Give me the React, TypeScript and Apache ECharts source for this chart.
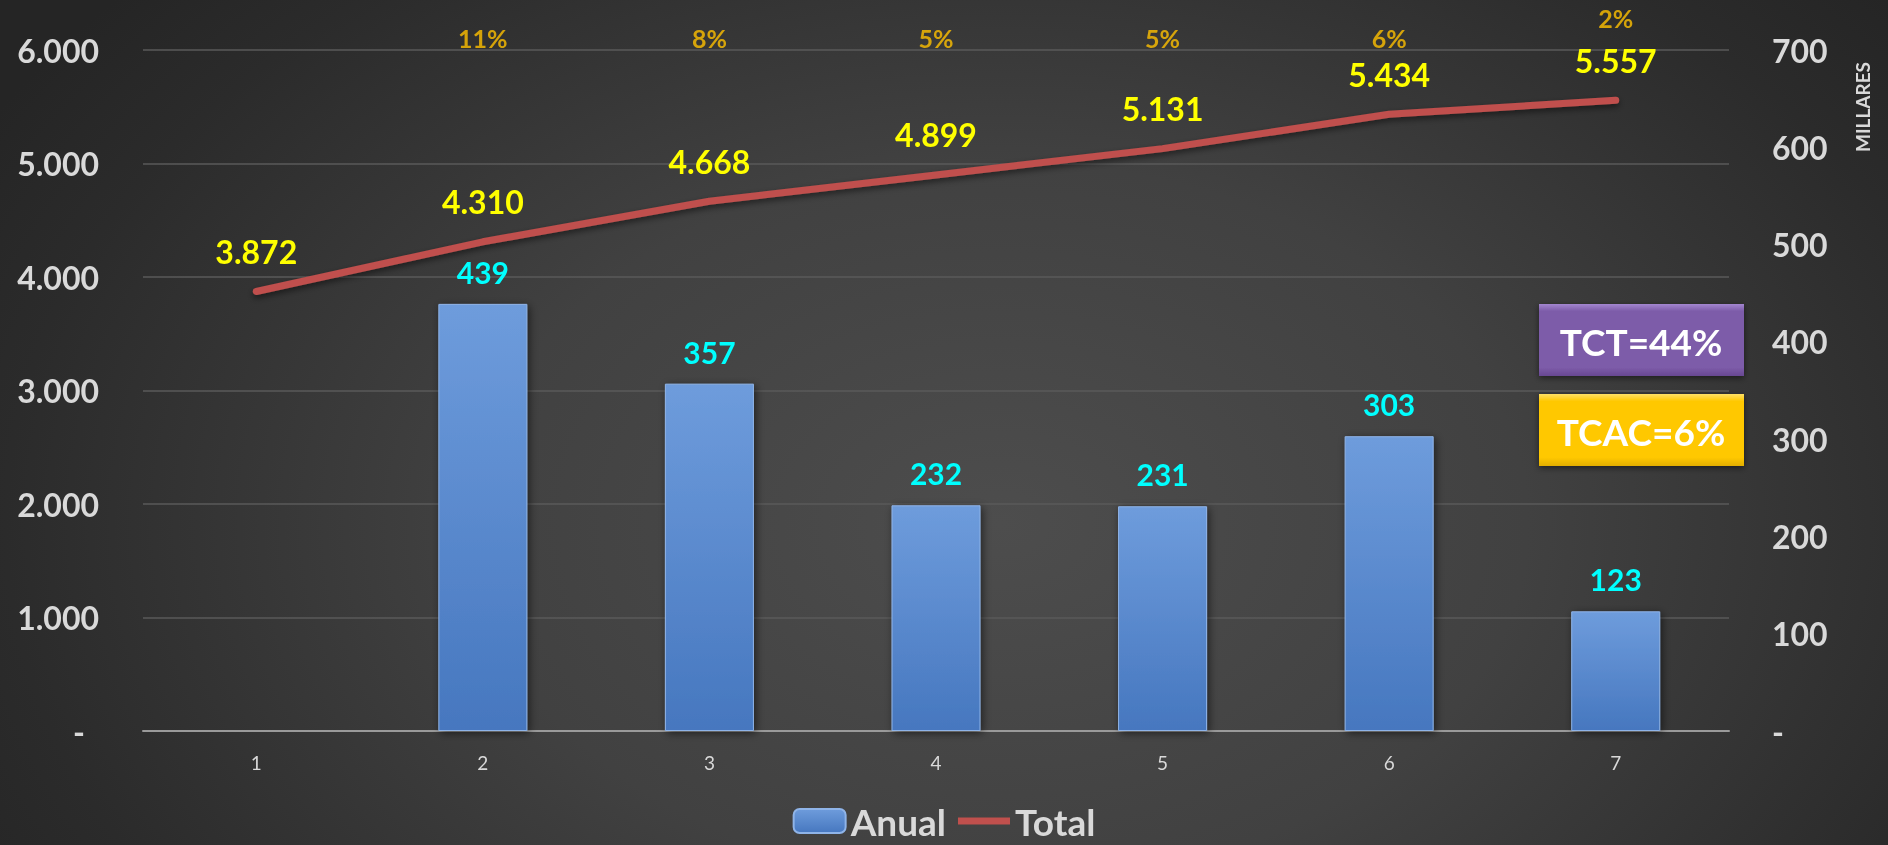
import React, { useEffect, useRef } from "react";
import * as echarts from "echarts";

const categories = ["1", "2", "3", "4", "5", "6", "7"];
const anual: (number | null)[] = [null, 439, 357, 232, 231, 303, 123];
const total = [3872, 4310, 4668, 4899, 5131, 5434, 5557];
const growth = ["", "11%", "8%", "5%", "5%", "6%", "2%"];
const leftAxis = { min: 0, max: 6000, interval: 1000 };
const rightAxis = { min: 0, max: 700, interval: 100 };
const badges = ["TCT=44%", "TCAC=6%"];

const FONT = "Lato, 'Open Sans', sans-serif";

function fmtThousands(v: number): string {
  if (v === 0) return "-";
  const s = Math.round(v).toString();
  return s.replace(/\B(?=(\d{3})+(?!\d))/g, ".");
}

export default function App() {
  const ref = useRef<HTMLDivElement>(null);

  useEffect(() => {
    if (!ref.current) return;
    const chart = echarts.init(ref.current, undefined, { renderer: "svg" });

    const barGradient = new echarts.graphic.LinearGradient(0, 0, 0, 1, [
      { offset: 0, color: "#6E9CDC" },
      { offset: 1, color: "#4677BF" },
    ]);

    const pctData = growth.map((g, i) => ({
      value: g ? leftAxis.max : null,
      label: {
        formatter: g,
        offset: [0, i === growth.length - 1 ? -32 : -12],
      },
    }));

    const boxStyle = (i: number) =>
      i === 0
        ? { top: "#A386CF", body: "#7D5CA9", bottom: "#684892" }
        : { top: "#FFE066", body: "#FFC800", bottom: "#E2AE00" };

    const badgeGraphics = badges.map((txt, i) => {
      const c = boxStyle(i);
      return {
        type: "group",
        x: 1539,
        y: i === 0 ? 304 : 394,
        children: [
          {
            type: "rect",
            shape: { x: 0, y: 0, width: 205, height: 72 },
            style: {
              fill: new echarts.graphic.LinearGradient(0, 0, 0, 1, [
                { offset: 0, color: c.top },
                { offset: 0.1, color: c.body },
                { offset: 0.88, color: c.body },
                { offset: 1, color: c.bottom },
              ]),
              shadowBlur: 6,
              shadowColor: "rgba(0,0,0,0.5)",
              shadowOffsetY: 2,
            },
          },
          {
            type: "text",
            x: 102,
            y: 37,
            style: {
              text: txt,
              fill: "#FFFFFF",
              font: `bold 37px ${FONT}`,
              align: "center",
              verticalAlign: "middle",
            },
          },
        ],
      };
    });

    chart.setOption({
      animation: false,
      backgroundColor: "transparent",
      textStyle: { fontFamily: FONT },
      grid: { left: 143, right: 159, top: 50, bottom: 114, containLabel: false },
      legend: {
        data: [
          { name: "Anual" },
          { name: "Total", icon: "path://M0,0 L52,0 L52,7 L0,7 Z" },
        ],
        left: "center",
        top: 796,
        itemWidth: 52,
        itemHeight: 24,
        itemGap: 12,
        symbolKeepAspect: true,
        textStyle: {
          color: "#D9D9D9",
          fontSize: 37,
          lineHeight: 40,
          fontWeight: "bold",
          fontFamily: FONT,
        },
      },
      xAxis: {
        type: "category",
        data: categories,
        axisLine: { lineStyle: { color: "#9A9A9A", width: 2 } },
        axisTick: { show: false },
        axisLabel: { color: "#D9D9D9", fontSize: 19, margin: 22, fontFamily: FONT },
      },
      yAxis: [
        {
          type: "value",
          min: leftAxis.min,
          max: leftAxis.max,
          interval: leftAxis.interval,
          axisLine: { show: false },
          axisTick: { show: false },
          splitLine: { lineStyle: { color: "#5A5A5A", width: 1.5 } },
          axisLabel: {
            margin: 44,
            formatter: (v: number) => (v === 0 ? "{d|-}" : fmtThousands(v)),
            color: "#D9D9D9",
            fontSize: 32,
            fontWeight: "bold",
            fontFamily: FONT,
            rich: {
              d: {
                color: "#D9D9D9",
                fontSize: 32,
                fontWeight: "bold",
                fontFamily: FONT,
                padding: [0, 14, 0, 0],
              },
            },
          },
        },
        {
          type: "value",
          position: "right",
          min: rightAxis.min,
          max: rightAxis.max,
          interval: rightAxis.interval,
          axisLine: { show: false },
          axisTick: { show: false },
          splitLine: { show: false },
          axisLabel: {
            margin: 43,
            formatter: (v: number) => fmtThousands(v),
            color: "#D9D9D9",
            fontSize: 32,
            fontWeight: "bold",
            fontFamily: FONT,
          },
        },
      ],
      graphic: [
        {
          type: "text",
          x: 1862,
          y: 107,
          rotation: Math.PI / 2,
          style: {
            text: "MILLARES",
            fill: "#D9D9D9",
            font: `bold 19px ${FONT}`,
            align: "center",
            verticalAlign: "middle",
          },
        },
        ...badgeGraphics,
      ],
      series: [
        {
          name: "Anual",
          type: "bar",
          yAxisIndex: 1,
          data: anual,
          barWidth: 89,
          itemStyle: {
            color: barGradient,
            borderColor: "#8FB4E8",
            borderWidth: 1,
            shadowBlur: 8,
            shadowColor: "rgba(0,0,0,0.55)",
            shadowOffsetX: 2,
            shadowOffsetY: 2,
          },
          label: {
            show: true,
            position: "top",
            distance: 17,
            color: "#00FFFF",
            fontSize: 30,
            fontWeight: "bold",
            fontFamily: FONT,
          },
          z: 2,
        },
        {
          name: "Total",
          type: "line",
          yAxisIndex: 0,
          data: total,
          showSymbol: true,
          symbol: "circle",
          symbolSize: 0.1,
          lineStyle: {
            color: "#C0504D",
            width: 7,
            cap: "round",
            join: "round",
            shadowBlur: 6,
            shadowColor: "rgba(0,0,0,0.5)",
            shadowOffsetY: 3,
          },
          itemStyle: { color: "#C0504D" },
          label: {
            show: true,
            position: "top",
            distance: 24,
            formatter: (p: any) => fmtThousands(p.value),
            color: "#FFFF00",
            fontSize: 32,
            fontWeight: "bold",
            fontFamily: FONT,
          },
          z: 3,
        },
        {
          name: "Crecimiento",
          type: "scatter",
          yAxisIndex: 0,
          data: pctData,
          symbolSize: 0,
          clip: false,
          silent: true,
          label: {
            show: true,
            position: "inside",
            color: "#FFC000",
            fontSize: 25,
            fontWeight: "bold",
            fontFamily: FONT,
          },
          z: 4,
        },
      ],
    });

    return () => chart.dispose();
  }, []);

  return (
    <div
      style={{
        position: "fixed",
        left: 0,
        top: 0,
        width: 1888,
        height: 845,
        background:
          "radial-gradient(ellipse 62% 95% at 53% 62%, #4d4d4d 0%, #414141 45%, #2b2b2b 85%, #252525 100%)",
      }}
    >
      <div ref={ref} style={{ width: 1888, height: 845 }} />
    </div>
  );
}
